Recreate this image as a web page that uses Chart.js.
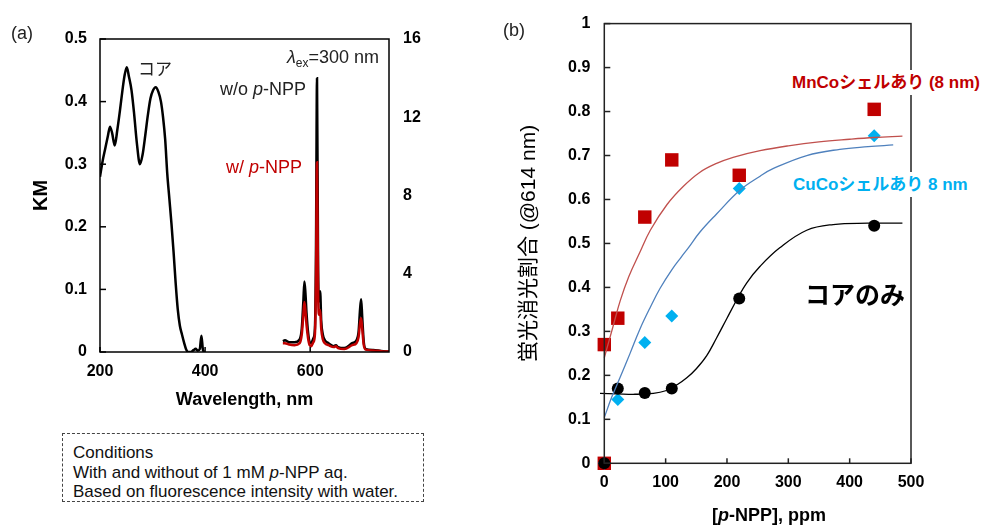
<!DOCTYPE html>
<html>
<head>
<meta charset="utf-8">
<script src="https://cdn.jsdelivr.net/npm/chart.js@4.4.1/dist/chart.umd.min.js"></script>
<style>
  html, body { margin: 0; padding: 0; background: #fff; }
  #wrap {
    position: relative; width: 983px; height: 532px; overflow: hidden;
    font-family: "Liberation Sans", Arial, "Noto Sans CJK JP", sans-serif; color: #000;
  }
  canvas { position: absolute; }
  #chartA { left: 0; top: 0; }
  #chartB { left: 490px; top: 0; }
  .lbl { position: absolute; white-space: nowrap; line-height: 1; }
  .sub { font-size: 12px; position: relative; top: 4px; }
  #cond {
    position: absolute; left: 62px; top: 433px; width: 362px; height: 69px;
    border: 1px dashed #444; box-sizing: border-box;
    font-size: 17px; line-height: 19.5px; padding: 9px 0 0 10px; color: #111;
  }
  .tag { background: #fff; padding: 4px 0; font-weight: bold; font-size: 17px; }
</style>
</head>
<body>
<div id="wrap">
  <canvas id="chartA" width="440" height="412"></canvas>
  <canvas id="chartB" width="493" height="532"></canvas>

  <div class="lbl" style="left:11px; top:24px; font-size:18px; color:#222;">(a)</div>
  <div class="lbl" style="left:138px; top:61px; font-size:17px; color:#222;">コア</div>
  <div class="lbl" style="right:604px; top:48px; font-size:18px; color:#222;"><i>λ</i><span class="sub">ex</span>=300 nm</div>
  <div class="lbl" style="left:220px; top:80px; font-size:18px; color:#222;">w/o <i>p</i>-NPP</div>
  <div class="lbl" style="left:226px; top:158px; font-size:18px; color:#C00000;">w/ <i>p</i>-NPP</div>
  <div id="cond">Conditions<br>With and without of 1 mM <i>p</i>-NPP aq.<br>Based on fluorescence intensity with water.</div>

  <div class="lbl" style="left:503px; top:21px; font-size:18px; color:#222;">(b)</div>
  <div class="lbl tag" style="left:792px; top:70px; color:#C00000;">MnCoシェルあり (8 nm)</div>
  <div class="lbl tag" style="left:793px; top:172px; color:#00B0F0;">CuCoシェルあり 8 nm</div>
  <div class="lbl" style="left:805px; top:283px; font-size:25px; font-weight:bold;">コアのみ</div>
  <div class="lbl" style="left:712px; top:506px; font-size:18px; font-weight:bold;">[<i>p</i>-NPP], ppm</div>
</div>

<script>
// ---- (a) diffuse reflectance (KM) of the core ----
const KM_NM  = [200, 205, 210, 215, 219, 223, 228, 233, 238, 243, 247, 251, 255, 260, 265,
                270, 276, 281, 286, 291, 296, 301, 306, 311, 316, 320, 324, 328, 332, 336,
                340, 344, 348, 352, 356, 360, 364, 368, 373, 378, 382, 386, 390, 393, 396, 399];
const KM_VAL = [0.28, 0.305, 0.325, 0.345, 0.36, 0.35, 0.33, 0.355, 0.386, 0.42, 0.443, 0.455, 0.44, 0.418, 0.38,
                0.335, 0.30, 0.315, 0.345, 0.378, 0.405, 0.418, 0.423, 0.416, 0.40, 0.375, 0.34, 0.285, 0.245, 0.205,
                0.16, 0.11, 0.068, 0.042, 0.028, 0.015, 0.004, 0, 0, 0.003, 0.005, 0.002, 0.005, 0.026, 0.003, 0];

// ---- (a) emission spectra (right axis) ----
const EM_NM  = [548, 552, 560, 570, 580, 584, 587, 589, 591, 593, 596, 599, 602, 606, 609,
                611, 613, 615, 617, 619, 621, 624, 628, 635, 645, 649, 653, 665, 680, 688,
                692, 695, 697, 699, 702, 706, 720, 735, 750];
const EM_WITHOUT = [0.55, 0.6, 0.5, 0.5, 0.65, 1.2, 2.6, 3.6, 3.0, 2.0, 1.0, 0.5, 0.45, 0.7, 1.2,
                    5.0, 14.0, 4.5, 2.6, 3.1, 1.6, 0.9, 0.6, 0.45, 0.3, 0.35, 0.25, 0.2, 0.45, 0.6,
                    1.0, 2.2, 2.7, 1.8, 0.5, 0.15, 0.1, 0.05, 0.02];
const EM_WITH    = [0.45, 0.45, 0.38, 0.35, 0.45, 0.9, 1.9, 2.55, 2.1, 1.4, 0.7, 0.35, 0.3, 0.5, 0.9,
                    3.6, 9.7, 3.2, 1.9, 2.15, 1.2, 0.65, 0.45, 0.35, 0.25, 0.3, 0.2, 0.15, 0.35, 0.45,
                    0.75, 1.5, 1.72, 1.2, 0.35, 0.12, 0.08, 0.04, 0.02];

const A_X_TICKS  = [200, 400, 600];
const A_Y_TICKS  = [0, 0.1, 0.2, 0.3, 0.4, 0.5];
const A_Y2_TICKS = [0, 4, 8, 12, 16];

// ---- (b) quenching ratio vs p-NPP ----
const PPM        = [0, 22, 66, 110, 220, 440];
const CORE_ONLY  = [0, 0.17, 0.16, 0.17, 0.375, 0.54];
const CUCO       = [0, 0.145, 0.275, 0.335, 0.625, 0.745];
const MNCO_PPM   = [0, 0, 22, 66, 110, 220, 440];
const MNCO       = [0, 0.27, 0.33, 0.56, 0.69, 0.655, 0.805];

// fitted curves
const FIT_CORE_PPM = [-7, 20, 50, 80, 100, 118, 135, 150, 167, 183, 200, 216, 232, 254, 286, 330, 373, 430, 486];
const FIT_CORE     = [0.159, 0.158, 0.157, 0.159, 0.165, 0.178, 0.195, 0.215, 0.245, 0.285, 0.33, 0.372, 0.41, 0.448, 0.49, 0.53, 0.543, 0.546, 0.546];
const FIT_CUCO_PPM = [0, 12, 26, 42, 58, 75, 91, 110, 126, 137, 156, 183, 221, 254, 275, 330, 384, 430, 471];
const FIT_CUCO     = [0.104, 0.15, 0.196, 0.25, 0.305, 0.355, 0.398, 0.44, 0.47, 0.49, 0.526, 0.567, 0.621, 0.653, 0.67, 0.70, 0.714, 0.72, 0.724];
const FIT_MNCO_PPM = [0, 14, 26, 40, 58, 75, 102, 129, 156, 183, 210, 254, 300, 350, 400, 440, 486];
const FIT_MNCO     = [0.24, 0.31, 0.37, 0.425, 0.48, 0.53, 0.588, 0.63, 0.662, 0.682, 0.696, 0.711, 0.722, 0.731, 0.737, 0.741, 0.744];

const B_X_TICKS = [0, 100, 200, 300, 400, 500];
const B_Y_TICKS = [0, 0.1, 0.2, 0.3, 0.4, 0.5, 0.6, 0.7, 0.8, 0.9, 1];

const FONT = '"Liberation Sans", Arial, "Noto Sans CJK JP", sans-serif';
const tickFont = { family: FONT, size: 16, weight: 'bold' };

const pts = (xs, ys) => xs.map((x, i) => ({ x: x, y: ys[i] }));
const fixTicks = list => scale => { scale.ticks = list.map(v => ({ value: v })); };
const plain = v => String(v);

// box around the plot area + short inward tick marks
const framePlugin = {
    id: 'frame',
    afterDatasetsDraw(chart, args, opts) {
        const { ctx, chartArea: a } = chart;
        ctx.save();
        ctx.strokeStyle = opts.color;
        ctx.lineWidth = opts.width;
        ctx.strokeRect(a.left, a.top, a.right - a.left, a.bottom - a.top);
        opts.axes.forEach(id => {
            const s = chart.scales[id];
            s.ticks.forEach(t => {
                const p = s.getPixelForValue(t.value);
                ctx.beginPath();
                if (s.isHorizontal()) { ctx.moveTo(p, a.bottom); ctx.lineTo(p, a.bottom - 5); }
                else if (s.position === 'left') { ctx.moveTo(a.left, p); ctx.lineTo(a.left + 6, p); }
                else { ctx.moveTo(a.right, p); ctx.lineTo(a.right - 6, p); }
                ctx.stroke();
            });
        });
        ctx.restore();
    }
};

const noGrid = { display: false, drawTicks: false };

// ============ chart (a) ============
new Chart(document.getElementById('chartA'), {
    type: 'line',
    data: {
        datasets: [
            {
                data: pts(EM_NM, EM_WITH), yAxisID: 'y2',
                borderColor: '#C00000', borderWidth: 2.5, pointRadius: 0,
                cubicInterpolationMode: 'monotone', order: 0
            },
            {
                data: pts(EM_NM, EM_WITHOUT), yAxisID: 'y2',
                borderColor: '#000', borderWidth: 2.5, pointRadius: 0,
                cubicInterpolationMode: 'monotone', order: 1
            },
            {
                data: pts(KM_NM, KM_VAL), yAxisID: 'y',
                borderColor: '#000', borderWidth: 2.5, pointRadius: 0,
                cubicInterpolationMode: 'monotone', order: 2
            }
        ]
    },
    options: {
        responsive: false,
        devicePixelRatio: 1,
        animation: false,
        layout: { padding: { top: 39, left: 0, right: 0, bottom: 0 } },
        plugins: {
            legend: { display: false },
            tooltip: { enabled: false },
            frame: { color: '#000', width: 1.5, axes: ['x', 'y'] }
        },
        scales: {
            x: {
                type: 'linear', min: 200, max: 750,
                grid: noGrid, border: { display: false },
                afterBuildTicks: fixTicks(A_X_TICKS),
                afterFit: s => { s.height = 60; },
                ticks: { font: tickFont, color: '#000', padding: 10, callback: plain },
                title: {
                    display: true, text: 'Wavelength, nm', color: '#000',
                    font: { family: FONT, size: 18, weight: 'bold' }, padding: { top: 0, bottom: 1 }
                }
            },
            y: {
                position: 'left', min: 0, max: 0.5,
                grid: noGrid, border: { display: false },
                afterBuildTicks: fixTicks(A_Y_TICKS),
                afterFit: s => { s.width = 100; },
                ticks: { font: tickFont, color: '#000', padding: 13, callback: plain },
                title: {
                    display: true, text: 'KM', color: '#000',
                    font: { family: FONT, size: 20, weight: 'bold' }, padding: { top: 29, bottom: 0 }
                }
            },
            y2: {
                position: 'right', min: 0, max: 16,
                grid: noGrid, border: { display: false },
                afterBuildTicks: fixTicks(A_Y2_TICKS),
                afterFit: s => { s.width = 51; },
                ticks: { font: tickFont, color: '#000', padding: 14, callback: plain }
            }
        }
    },
    plugins: [framePlugin]
});

// ============ chart (b) ============
const fitLine = (xs, ys, color) => ({
    type: 'line', data: pts(xs, ys), showLine: true,
    borderColor: color, borderWidth: 1.3, pointRadius: 0,
    tension: 0.4, clip: false, order: 0
});

new Chart(document.getElementById('chartB'), {
    type: 'scatter',
    data: {
        datasets: [
            fitLine(FIT_MNCO_PPM, FIT_MNCO, '#C0504D'),
            fitLine(FIT_CUCO_PPM, FIT_CUCO, '#4F81BD'),
            fitLine(FIT_CORE_PPM, FIT_CORE, '#000'),
            {
                data: pts(PPM, CORE_ONLY), pointStyle: 'circle', pointRadius: 6,
                backgroundColor: '#000', borderColor: '#000', borderWidth: 0, clip: false, order: 1
            },
            {
                data: pts(PPM, CUCO), pointStyle: 'rectRot', pointRadius: 6.5,
                backgroundColor: '#00B0F0', borderColor: '#00B0F0', borderWidth: 0, clip: false, order: 2
            },
            {
                data: pts(MNCO_PPM, MNCO), pointStyle: 'rect', pointRadius: 9.5,
                backgroundColor: '#C00000', borderColor: '#C00000', borderWidth: 0, clip: false, order: 3
            }
        ]
    },
    options: {
        responsive: false,
        devicePixelRatio: 1,
        animation: false,
        layout: { padding: { top: 21.7, left: 0, right: 72, bottom: 0 } },
        plugins: {
            legend: { display: false },
            tooltip: { enabled: false },
            frame: { color: '#222', width: 1.5, axes: ['x', 'y'] }
        },
        scales: {
            x: {
                type: 'linear', min: 0, max: 500,
                grid: noGrid, border: { display: false },
                afterBuildTicks: fixTicks(B_X_TICKS),
                afterFit: s => { s.height = 68.7; },
                ticks: { font: tickFont, color: '#000', padding: 10, callback: plain }
            },
            y: {
                min: 0, max: 1,
                grid: noGrid, border: { display: false },
                afterBuildTicks: fixTicks(B_Y_TICKS),
                afterFit: s => { s.width = 114.3; },
                ticks: { font: tickFont, color: '#000', padding: 14, callback: plain },
                title: {
                    display: true, text: '蛍光消光割合 (@614 nm)', color: '#000',
                    font: { family: FONT, size: 21, weight: 'normal' }, padding: { top: 27, bottom: 0 }
                }
            }
        }
    },
    plugins: [framePlugin]
});
</script>
</body>
</html>
